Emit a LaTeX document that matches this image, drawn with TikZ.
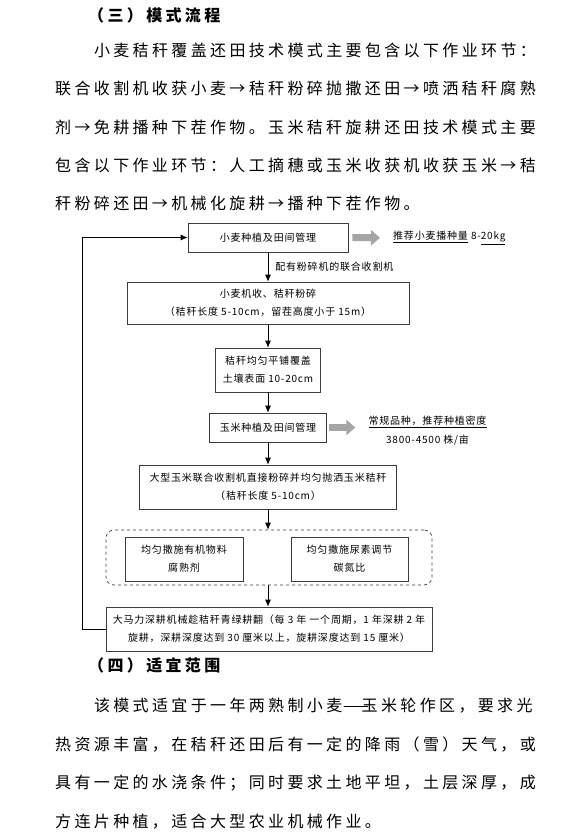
\documentclass[tikz,border=0pt]{standalone}
\usepackage{fontspec}
\usepackage{graphicx}
\setmainfont{Noto Sans CJK SC}
\newfontfamily\bodyfont{Noto Sans CJK SC}[LetterSpace=21]
\newfontfamily\flowfont{Noto Sans CJK SC}[LetterSpace=8]
\usetikzlibrary{arrows.meta}
\definecolor{arrowgray}{RGB}{165,165,165}
\definecolor{boxline}{RGB}{60,60,60}

\tikzset{
  bodyline/.style={anchor=west, inner sep=0pt, font=\bodyfont\fontsize{16}{16}\selectfont},
  headline/.style={anchor=west, inner sep=0pt, font=\bodyfont\bfseries\fontsize{16}{16}\selectfont},
  stepbox/.style={draw=boxline, line width=0.7pt, align=center, inner sep=0pt,
    font=\flowfont\fontsize{10}{18}\selectfont},
  note/.style={inner sep=0pt, align=center, font=\flowfont\fontsize{10}{19}\selectfont},
  arr/.style={-{Latex[length=7pt,width=6pt]}, line width=0.7pt},
  fatarr/.style={-{Triangle[length=9pt,width=15pt]}, line width=7pt, draw=arrowgray},
}

\begin{document}
\begin{tikzpicture}[x=1pt,y=-1pt]
\useasboundingbox (0,0) rectangle (584,837);

% text above the chart
\node[headline] (head3) at (88,15) {（三）模式流程};
\node[bodyline] (p1) at (93.8,50) {小麦秸秆覆盖还田技术模式主要包含以下作业环节：};
\node[bodyline] (p2) at (55,88) {联合收割机收获小麦→秸秆粉碎抛撒还田→喷洒秸秆腐熟};
\node[bodyline] (p3) at (55,127) {剂→免耕播种下茬作物。玉米秸秆旋耕还田技术模式主要};
\node[bodyline] (p4) at (55,165) {包含以下作业环节：人工摘穗或玉米收获机收获玉米→秸};
\node[bodyline] (p5) at (55,203) {秆粉碎还田→机械化旋耕→播种下茬作物。};

% chart
\node[stepbox, minimum width=160, minimum height=29] (wheat) at (268,237.5) {小麦种植及田间管理};
\node[stepbox, minimum width=282, minimum height=42] (harvest) at (268,303) {小麦机收、秸秆粉碎\\（秸秆长度 5-10cm，留茬高度小于 15m）};
\node[stepbox, minimum width=105, minimum height=44] (cover) at (268,370) {秸秆均匀平铺覆盖\\土壤表面 10-20cm};
\node[stepbox, minimum width=117, minimum height=29] (maize) at (268,427.5) {玉米种植及田间管理};
\node[stepbox, minimum width=257, minimum height=44] (chop) at (268,487) {大型玉米联合收割机直接粉碎并均匀抛洒玉米秸秆\\（秸秆长度 5-10cm）};
\node[draw=boxline, line width=0.7pt, dashed, rounded corners=8pt, minimum width=326, minimum height=55] (mix) at (269,557.5) {};
\node[stepbox, minimum width=118, minimum height=44] (organic) at (184,559) {均匀撒施有机物料\\腐熟剂};
\node[stepbox, minimum width=117, minimum height=44] (urea) at (349.5,559) {均匀撒施尿素调节\\碳氮比};
\node[stepbox, minimum width=326, minimum height=44] (plough) at (269,629) {大马力深耕机械趁秸秆青绿耕翻（每 3 年 一个周期，1 年深耕 2 年\\旋耕，深耕深度达到 30 厘米以上，旋耕深度达到 15 厘米）};

\node[note, anchor=west] (seedrate) at (393,238) {\underline{推荐小麦播种量} 8-\underline{20kg}};
\node[note] (density) at (427.5,431) {\underline{常规品种，推荐种植密度}\\3800-4500 株/亩};

\draw[arr] (wheat) -- (harvest) node[note, midway, right=7pt] (combine) {配有粉碎机的联合收割机};
\draw[arr] (harvest) -- (cover);
\draw[arr] (cover) -- (maize);
\draw[arr] (maize) -- (chop);
\draw[arr] (chop.south) -- (chop.south |- mix.north);
\draw[arr] (chop.south |- mix.south) -- (chop.south |- plough.north);
\draw[arr] (plough.west) -- ++(-23,0) |- (wheat.west);

\draw[fatarr, shorten <=4pt, shorten >=13pt] (wheat.east) -- (seedrate.west);
\draw[fatarr, shorten <=2pt, shorten >=13pt] (maize.east) -- (maize.east -| density.west);

% text below the chart
\node[headline] (head4) at (88,665) {（四）适宜范围};
\node[bodyline] (q1) at (93.8,706) {该模式适宜于一年两熟制小麦\makebox[19.4pt][l]{\scalebox{1.9}[1]{—}}玉米轮作区，要求光};
\node[bodyline] (q2) at (55,744) {热资源丰富，在秸秆还田后有一定的降雨（雪）天气，或};
\node[bodyline] (q3) at (55,783) {具有一定的水浇条件；同时要求土地平坦，土层深厚，成};
\node[bodyline] (q4) at (55,822) {方连片种植，适合大型农业机械作业。};
\end{tikzpicture}
\end{document}
